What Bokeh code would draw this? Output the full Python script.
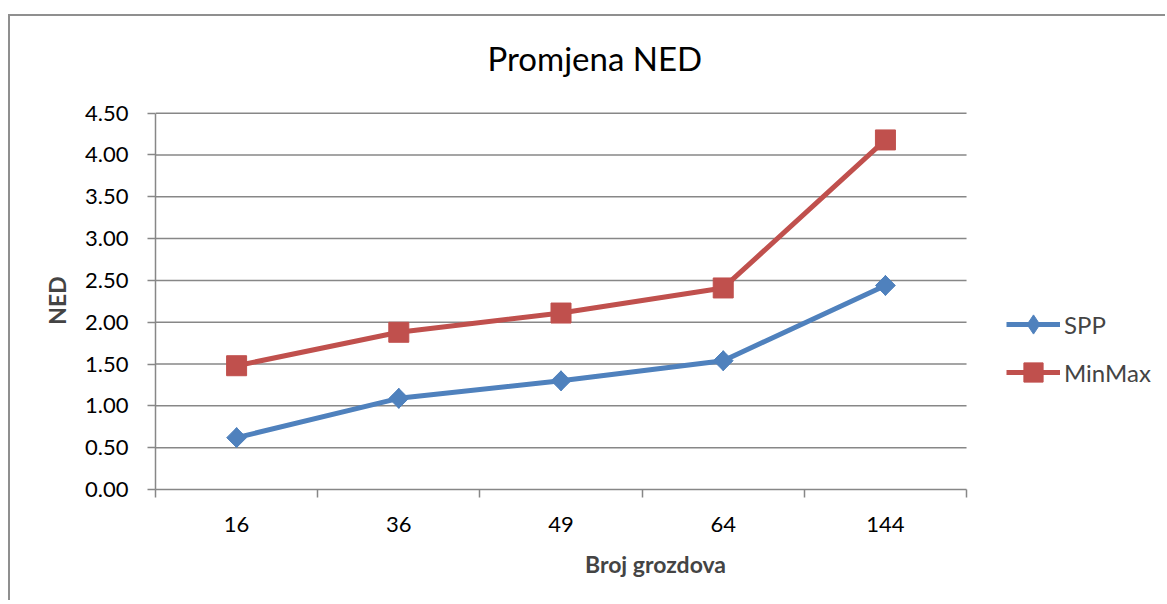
from bokeh.plotting import figure
from bokeh.models import (Range1d, LinearAxis, FixedTicker, PrintfTickFormatter,
                          Legend, LegendItem)
from bokeh.embed import file_html
from bokeh.resources import INLINE
import math

categories = ["16", "36", "49", "64", "144"]
spp = [0.62, 1.09, 1.30, 1.54, 2.44]
minmax = [1.48, 1.88, 2.11, 2.41, 4.18]
y_ticks = [0.0, 0.5, 1.0, 1.5, 2.0, 2.5, 3.0, 3.5, 4.0, 4.5]

FONT = "Lato"
GRID = "#878787"
BLUE = "#4F81BD"
RED = "#C0504D"

n = len(categories)
xpos = [i + 0.5 for i in range(n)]
bounds = [float(i) for i in range(n + 1)]
X_END = 6.165          # extra room on the right of the frame holds the legend
Y_END = 4.52

p = figure(width=1157, height=600, output_backend="svg", toolbar_location=None,
           x_range=Range1d(0, X_END), y_range=Range1d(0, Y_END),
           x_axis_type=None, y_axis_type=None,
           min_border_left=147, min_border_right=10, min_border_top=111, min_border_bottom=111)
p.margin = (0, 0, 0, 8)
# chart-area border (left and top edges) drawn behind the transparent canvas
p.styles = {"background": "linear-gradient(#8f8f8f, #8f8f8f) 0px 14px / 100% 2px no-repeat, "
                          "linear-gradient(#8f8f8f, #8f8f8f) 0px 14px / 2px 100% no-repeat"}
p.outline_line_color = None
p.background_fill_color = "white"
p.border_fill_color = None
p.xgrid.visible = False
p.ygrid.visible = False

p.title.text = "Promjena NED"
p.title.align = "left"
p.title.text_font = FONT
p.title.text_font_size = "33px"
p.title.text_font_style = "normal"
p.title.text_color = "black"
p.title.standoff = 68
p.title.offset = 332

# y axis
yax = LinearAxis(ticker=FixedTicker(ticks=y_ticks, minor_ticks=[]),
                 formatter=PrintfTickFormatter(format="%.2f"))
yax.bounds = (y_ticks[0], y_ticks[-1])
yax.axis_label = "NED"
yax.axis_label_text_font = FONT
yax.axis_label_text_font_style = "bold"
yax.axis_label_text_font_size = "23px"
yax.axis_label_standoff = 11
yax.major_label_text_font = FONT
yax.major_label_text_font_size = "22px"
yax.major_label_text_color = "black"
yax.major_label_standoff = 19
yax.axis_line_color = GRID
yax.axis_line_width = 1.5
yax.major_tick_line_color = GRID
yax.major_tick_line_width = 1.5
yax.major_tick_out = 8
yax.major_tick_in = 0
yax.minor_tick_line_color = None
p.add_layout(yax, "left")

# x axis: labels at category centres, ticks at category boundaries
xax = LinearAxis(ticker=FixedTicker(ticks=xpos, minor_ticks=bounds))
xax.bounds = (bounds[0], bounds[-1])
xax.major_label_overrides = {x: c for x, c in zip(xpos, categories)}
xax.axis_label = "Broj grozdova"
xax.axis_label_text_font = FONT
xax.axis_label_text_font_style = "bold"
xax.axis_label_text_font_size = "23px"
xax.axis_label_standoff = 15
xax.major_label_text_font = FONT
xax.major_label_text_font_size = "22px"
xax.major_label_text_color = "black"
xax.major_label_standoff = 19
xax.axis_line_color = GRID
xax.axis_line_width = 1.5
xax.major_tick_line_color = None
xax.major_tick_out = 0
xax.major_tick_in = 0
xax.minor_tick_line_color = GRID
xax.minor_tick_line_width = 1.5
xax.minor_tick_out = 8
xax.minor_tick_in = 0
p.add_layout(xax, "below")

# horizontal gridlines, limited to the category span
gy = [t for t in y_ticks if t > y_ticks[0]]
p.segment(x0=[bounds[0]] * len(gy), x1=[bounds[-1]] * len(gy), y0=gy, y1=gy,
          line_color=GRID, line_width=1.5)

l1 = p.line(xpos, spp, line_color=BLUE, line_width=5)
k1 = p.scatter(xpos, spp, marker="diamond", size=20, fill_color=BLUE, line_color=BLUE)
s1 = p.scatter(xpos, spp, marker="square", angle=math.pi / 4, size=14,
               fill_color=BLUE, line_color=BLUE)
l2 = p.line(xpos, minmax, line_color=RED, line_width=5)
s2 = p.scatter(xpos, minmax, marker="square", size=20,
               fill_color=RED, line_color=RED)

legend = Legend(items=[LegendItem(label="SPP", renderers=[l1, k1]),
                       LegendItem(label="MinMax", renderers=[l2, s2])],
                location=(851, 93))
legend.label_text_font = FONT
legend.label_text_font_size = "24px"
legend.glyph_width = 54
legend.glyph_height = 48
legend.label_height = 48
legend.label_standoff = 4
legend.spacing = 0
legend.padding = 0
legend.margin = 0
legend.border_line_color = None
legend.background_fill_alpha = 0
p.add_layout(legend, "center")

open("out.html", "w").write(file_html(p, INLINE))
